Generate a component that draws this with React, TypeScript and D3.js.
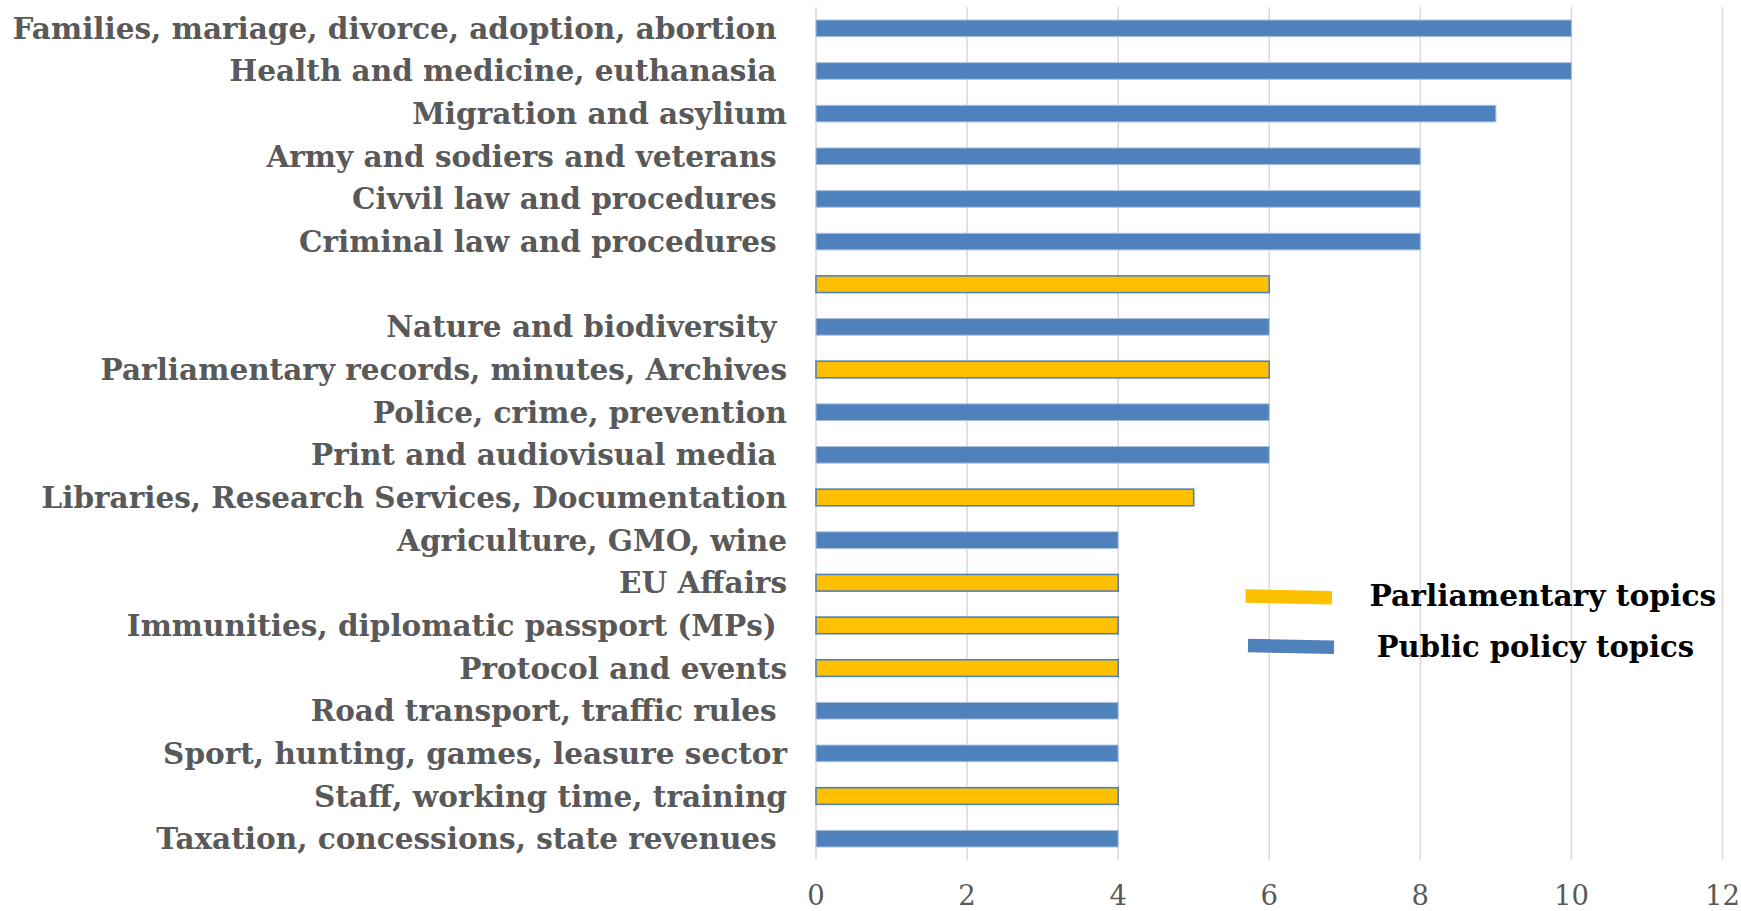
import React from "react";
import * as d3 from "d3";

const categories = [
  "Families, mariage, divorce, adoption, abortion ",
  "Health and medicine, euthanasia ",
  "Migration and asylium",
  "Army and sodiers and veterans ",
  "Civvil law and procedures ",
  "Criminal law and procedures ",
  "",
  "Nature and biodiversity ",
  "Parliamentary records, minutes, Archives",
  "Police, crime, prevention",
  "Print and audiovisual media ",
  "Libraries, Research Services, Documentation",
  "Agriculture, GMO, wine",
  "EU Affairs",
  "Immunities, diplomatic passport (MPs) ",
  "Protocol and events",
  "Road transport, traffic rules ",
  "Sport, hunting, games, leasure sector",
  "Staff, working time, training",
  "Taxation, concessions, state revenues ",
];

const values = [10, 10, 9, 8, 8, 8, 6, 6, 6, 6, 6, 5, 4, 4, 4, 4, 4, 4, 4, 4];

// "P" = Parliamentary topics, "U" = Public policy topics
const groups = ["U", "U", "U", "U", "U", "U", "P", "U", "P", "U", "U", "P", "U", "P", "P", "P", "U", "U", "P", "U"];

const xTicks = [0, 2, 4, 6, 8, 10, 12];

const legendItems = [
  { key: "P", label: "Parliamentary topics" },
  { key: "U", label: "Public policy topics" },
];

const W = 1741;
const H = 911;
const BLUE = "#4F81BD";
const YELLOW = "#FFC000";

export default function App() {
  const plotLeft = 816;
  const plotRight = 1722.5;
  const plotTop = 7;
  const plotBottom = 860;

  const x = d3.scaleLinear().domain([0, 12]).range([plotLeft, plotRight]);
  const y = d3
    .scaleBand<number>()
    .domain(d3.range(categories.length))
    .range([plotTop, plotBottom])
    .paddingInner(0.61)
    .paddingOuter(0.305);

  const bw = y.bandwidth();

  return (
    <svg
      width={W}
      height={H}
      style={{ position: "absolute", left: 0, top: 0, background: "#fff" }}
    >
      <rect x={0} y={0} width={W} height={H} fill="#fff" />
      {/* gridlines */}
      {xTicks.map((t) => (
        <line
          key={"g" + t}
          x1={x(t)}
          x2={x(t)}
          y1={plotTop}
          y2={plotBottom}
          stroke="#d9d9d9"
          strokeWidth={1.5}
        />
      ))}
      {/* bars */}
      {values.map((v, i) => {
        const isP = groups[i] === "P";
        return (
          <rect
            key={"b" + i}
            x={x(0)}
            y={y(i)!}
            width={x(v) - x(0)}
            height={bw}
            fill={isP ? YELLOW : BLUE}
            stroke={isP ? "#4F81BD" : "#a9c0de"}
            strokeWidth={isP ? 1.6 : 1}
          />
        );
      })}
      {/* category labels */}
      {categories.map((c, i) => (
        <text
          key={"l" + i}
          x={787}
          y={y(i)! + bw / 2}
          textAnchor="end"
          dominantBaseline="central"
          fontFamily="'DejaVu Serif', serif"
          fontWeight="bold"
          fontSize={29.5}
          fill="#595959"
          style={{ whiteSpace: "pre" }}
        >
          {c}
        </text>
      ))}
      {/* x tick labels */}
      {xTicks.map((t) => (
        <text
          key={"t" + t}
          x={x(t)}
          y={905}
          textAnchor="middle"
          fontFamily="'DejaVu Serif', serif"
          fontSize={27.5}
          fill="#595959"
        >
          {t}
        </text>
      ))}
      {/* legend */}
      <line x1={1245.5} y1={596} x2={1332} y2={597.7} stroke={YELLOW} strokeWidth={13.4} />
      <line x1={1248} y1={645.5} x2={1334} y2={647.2} stroke={BLUE} strokeWidth={13.6} />
      {legendItems.map((item, i) => (
        <text
          key={"lg" + item.key}
          x={i === 0 ? 1369.6 : 1376.8}
          y={i === 0 ? 606 : 656.7}
          fontFamily="'DejaVu Serif', serif"
          fontWeight="bold"
          fontSize={i === 0 ? 29.7 : 29}
          fill="#000"
        >
          {item.label}
        </text>
      ))}
    </svg>
  );
}
